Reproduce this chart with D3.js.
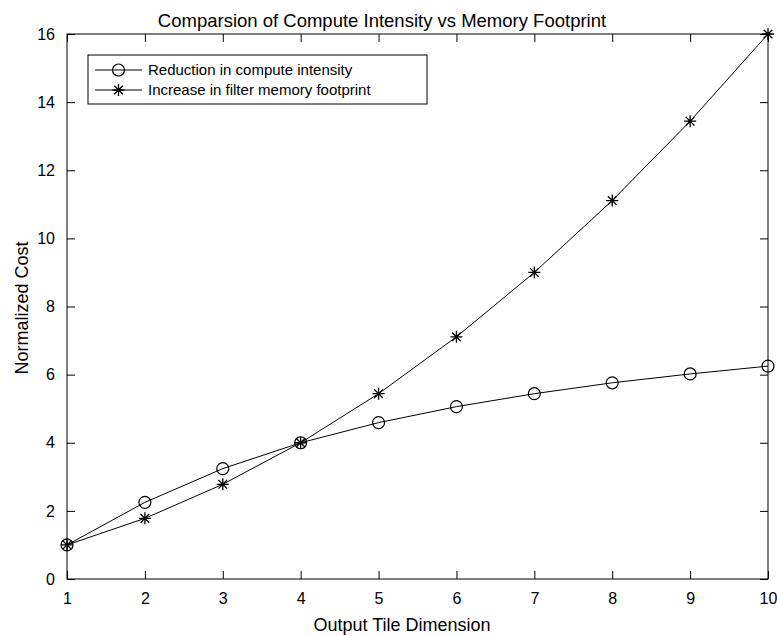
<!DOCTYPE html>
<html>
<head>
<meta charset="utf-8">
<script src="https://cdn.jsdelivr.net/npm/d3@7"></script>
<style>
  body { margin: 0; background: #fff; }
  svg { display: block; font-family: "Liberation Sans", Arial, Helvetica, sans-serif; }
</style>
</head>
<body>
<figure id="chart" style="margin:0"></figure>
<script>
// tile sizes on the x axis
const tileDims = [1, 2, 3, 4, 5, 6, 7, 8, 9, 10];
// normalized cost values
const computeReduction = [1.00, 2.25, 3.24, 4.00, 4.59, 5.06, 5.44, 5.76, 6.02, 6.25];
const memoryIncrease = [1.00, 1.78, 2.78, 4.00, 5.44, 7.11, 9.00, 11.11, 13.44, 16.00];
const yTicks = [0, 2, 4, 6, 8, 10, 12, 14, 16];
const seriesNames = ["Reduction in compute intensity", "Increase in filter memory footprint"];

const width = 777, height = 636;
const margin = { top: 34, right: 9, bottom: 57, left: 67 };
const innerW = width - margin.left - margin.right;
const innerH = height - margin.top - margin.bottom;

const svg = d3.select("#chart")
  .append("svg")
  .attr("width", width)
  .attr("height", height);

const g = svg.append("g")
  .attr("transform", "translate(" + margin.left + "," + margin.top + ")");

const x = d3.scaleLinear().domain([1, 10]).range([0, innerW]);
const y = d3.scaleLinear().domain([0, 16]).range([innerH, 0]);

g.append("rect")
  .attr("width", innerW).attr("height", innerH)
  .attr("fill", "#fff");

// axes with inward ticks, on all four sides (box on)
const tickLen = 8;
function styleAxis(sel) {
  sel.select(".domain").remove();
  sel.selectAll("line").attr("stroke", "#000");
  sel.selectAll("text").attr("fill", "#000").style("font-size", "16px");
}
g.append("g")
  .attr("transform", "translate(0," + innerH + ")")
  .call(d3.axisBottom(x).tickValues(tileDims).tickFormat(d3.format("d")).tickSizeInner(-tickLen).tickSizeOuter(0).tickPadding(tickLen + 6))
  .call(styleAxis);
g.append("g")
  .call(d3.axisTop(x).tickValues(tileDims).tickSizeInner(-tickLen).tickSizeOuter(0).tickFormat(""))
  .call(styleAxis);
g.append("g")
  .call(d3.axisLeft(y).tickValues(yTicks).tickSizeInner(-tickLen).tickSizeOuter(0).tickPadding(tickLen + 4))
  .call(styleAxis);
g.append("g")
  .attr("transform", "translate(" + innerW + ",0)")
  .call(d3.axisRight(y).tickValues(yTicks).tickSizeInner(-tickLen).tickSizeOuter(0).tickFormat(""))
  .call(styleAxis);

g.append("rect")
  .attr("width", innerW).attr("height", innerH)
  .attr("fill", "none").attr("stroke", "#000").attr("stroke-width", 1);

// markers
function circleMark(sel) {
  sel.append("circle").attr("r", 6).attr("fill", "none").attr("stroke", "#000").attr("stroke-width", 1.2);
}
function starMark(sel) {
  const s = 6, d = s * 0.72;
  const p = "M" + (-s) + ",0L" + s + ",0M0," + (-s) + "L0," + s +
            "M" + (-d) + "," + (-d) + "L" + d + "," + d + "M" + (-d) + "," + d + "L" + d + "," + (-d);
  sel.append("path").attr("d", p).attr("fill", "none").attr("stroke", "#000").attr("stroke-width", 1.3);
}

const line = d3.line().x((d, i) => x(tileDims[i])).y(d => y(d));
const series = [
  { values: computeReduction, mark: circleMark },
  { values: memoryIncrease, mark: starMark }
];

series.forEach(s => {
  g.append("path")
    .datum(s.values)
    .attr("d", line)
    .attr("fill", "none")
    .attr("stroke", "#000")
    .attr("stroke-width", 1);
  g.selectAll(null)
    .data(s.values)
    .enter()
    .append("g")
    .attr("transform", (d, i) => "translate(" + x(tileDims[i]) + "," + y(d) + ")")
    .each(function () { s.mark(d3.select(this)); });
});

// legend
const leg = svg.append("g").attr("transform", "translate(88,55)");
leg.append("rect")
  .attr("width", 339).attr("height", 49)
  .attr("fill", "#fff").attr("stroke", "#000").attr("stroke-width", 1);
series.forEach((s, i) => {
  const ly = 15 + i * 20;
  leg.append("line").attr("x1", 7).attr("x2", 54).attr("y1", ly).attr("y2", ly)
    .attr("stroke", "#000").attr("stroke-width", 1);
  s.mark(leg.append("g").attr("transform", "translate(30.5," + ly + ")"));
  leg.append("text").attr("x", 60).attr("y", ly).attr("dy", "0.35em")
    .style("font-size", "15px").attr("fill", "#000").text(seriesNames[i]);
});

// title and axis labels
svg.append("text")
  .attr("x", 382).attr("y", 27)
  .attr("text-anchor", "middle").style("font-size", "18.5px").attr("fill", "#000")
  .text("Comparsion of Compute Intensity vs Memory Footprint");
svg.append("text")
  .attr("x", 402).attr("y", 631)
  .attr("text-anchor", "middle").style("font-size", "18px").attr("fill", "#000")
  .text("Output Tile Dimension");
svg.append("text")
  .attr("transform", "translate(28,308)rotate(-90)")
  .attr("text-anchor", "middle").style("font-size", "18px").attr("fill", "#000")
  .text("Normalized Cost");
</script>
</body>
</html>
